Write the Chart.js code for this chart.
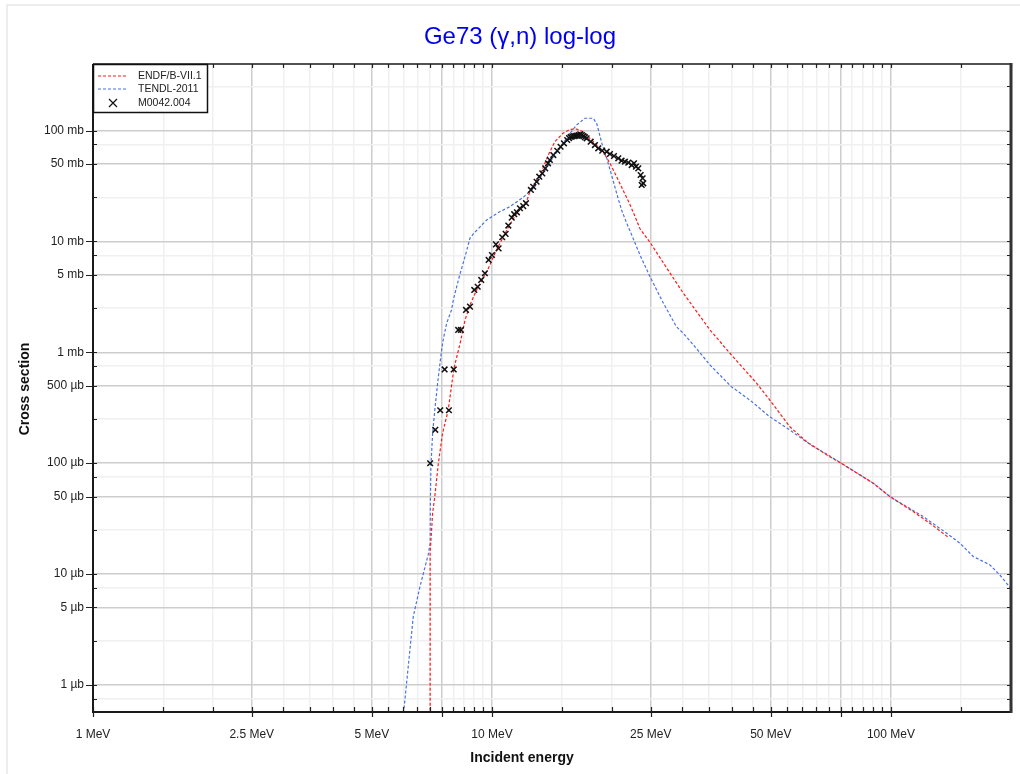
<!DOCTYPE html>
<html lang="en">
<head>
  <meta charset="UTF-8" />
  <title>Ge73 (γ,n) log-log</title>
  <script src="https://cdn.jsdelivr.net/npm/chart.js"></script>
  <style>
    html, body { margin: 0; padding: 0; background: #fff; }
    #wrap { width: 1020px; height: 774px; }
  </style>
</head>
<body>
  <div id="wrap"><canvas id="xsChart" width="1020" height="774"></canvas></div>

  <script>
    // energies in MeV, cross sections in mb
    const endfEnergy = [7.0, 7.0, 7.10, 7.19, 7.34, 7.52, 7.77, 8.03, 8.32, 8.56, 8.81, 9.15, 9.75, 10.27, 10.9,
      11.53, 12.17, 12.45, 13.2, 13.84, 14.38, 15.06, 15.69, 16.3, 16.93, 17.6, 18.3, 19.0, 19.76, 20.54, 21.3,
      22.1, 22.8, 23.5, 24.9, 28.5, 30.2, 35.2, 39.5, 46.1, 49.7, 55.8, 61.5, 69.0, 75.0, 90.3, 99.4, 113.7,
      125.2, 139.2];
    const endfXs = [0.0001, 0.0155, 0.0353, 0.050, 0.0998, 0.186, 0.302, 0.718, 1.2, 1.95, 2.67, 3.65, 5.52, 8.37, 12.7,
      17.9, 22.1, 28.1, 39.7, 60.1, 79.3, 94.4, 102.5, 103, 97.5, 85, 74, 64.4, 50.6, 38.3, 29.1,
      22.1, 17.0, 13.0, 9.8, 4.65, 3.40, 1.59, 0.98, 0.525, 0.371, 0.213, 0.156, 0.119, 0.100, 0.066, 0.050, 0.0366,
      0.0287, 0.0215];

    const tendlEnergy = [5.97, 6.11, 6.35, 6.6, 6.92, 7.0, 7.01, 7.03, 7.10, 7.19, 7.34, 7.48, 7.56, 7.70, 7.92, 8.0,
      8.28, 8.56, 8.81, 9.0, 9.7, 10.45, 11.1, 11.98, 12.8, 13.5, 14.38, 15.06, 15.69, 16.3, 17.1, 17.94,
      18.3, 18.5, 18.85, 19.4, 20.0, 20.54, 21.13, 21.7, 22.5, 23.5, 24.9, 26.9, 29.0, 30.2, 32.3, 35.2, 39.8,
      44.3, 49.7, 55.8, 63.9, 69.0, 75.0, 90.3, 99.4, 120.5, 138, 148.9, 160.8, 177, 187.6, 199.5, 205];
    const tendlXs = [0.00045, 0.00104, 0.00413, 0.0077, 0.0149, 0.019, 0.0466, 0.093, 0.186, 0.302, 0.603, 1.05, 1.34, 1.83, 2.41, 2.96,
      4.8, 7.28, 10.7, 11.8, 15.6, 18.5, 20.6, 25, 31.1, 42.5, 60.1, 76.7, 94.4, 112, 129, 129,
      116, 100, 77, 56, 38.3, 27.1, 19.2, 15, 11, 7.54, 4.8, 2.77, 1.70, 1.48, 1.12, 0.768, 0.49,
      0.371, 0.262, 0.199, 0.141, 0.121, 0.100, 0.066, 0.050, 0.033, 0.0233, 0.019, 0.0144, 0.0121, 0.0098, 0.00745, 0.0068];

    const expEnergy = [7.0, 7.21, 7.42, 7.80, 7.61, 8.02, 8.23, 8.36, 8.61, 8.81, 9.03, 9.21, 9.40, 9.60, 9.81,
      10.0, 10.23, 10.39, 10.61, 10.82, 10.99, 11.21, 11.37, 11.55, 11.75, 11.98, 12.17, 12.52, 12.69, 12.94,
      13.14, 13.37, 13.6, 13.82, 13.97, 14.25, 14.58, 14.86, 15.15, 15.44, 15.6, 15.75, 15.9, 16.05, 16.2,
      16.35, 16.5, 16.65, 16.8, 16.95, 17.1, 17.27, 17.68, 18.12, 18.47, 18.9, 19.39, 19.76, 20.22, 20.73,
      21.13, 21.54, 21.97, 22.4, 22.7, 22.96, 23.27, 23.59, 23.73, 23.86, 23.95];
    const expXs = [0.0998, 0.2, 0.3, 0.3, 0.70, 0.70, 1.59, 1.59, 2.41, 2.58, 3.65, 3.90, 4.49, 5.16, 6.80,
      7.54, 9.41, 8.66, 10.9, 11.7, 13.9, 16.4, 17.6, 18.3, 19.9, 20.8, 22.1, 29.1, 31.1, 34.5,
      38.3, 41.1, 45.6, 50.6, 54.2, 60.1, 65.7, 71.4, 76.7, 82.1, 85.5, 87.5, 88.5, 89, 89.5,
      90, 91, 92.4, 91, 89, 87, 85.1, 79.3, 74, 69.1, 65.8, 64.4, 61.4, 58.9, 56.2,
      53.4, 52.3, 51.3, 48.8, 50.6, 47.2, 45.6, 39.7, 32.3, 37.1, 33.4];

    // axis ranges and tick steps within a decade
    const xMin = 1, xMax = 200;
    const yMin = 0.00057, yMax = 398;
    const xTickSteps = [1, 1.5, 2, 2.5, 3, 3.5, 4, 4.5, 5, 5.5, 6, 6.5, 7, 7.5, 8, 8.5, 9, 9.5];
    const xDarkSteps = [1, 2.5, 5, 7.5];
    const xLabelSteps = [1, 2.5, 5];
    const yTickSteps = [1, 2.5, 5, 7.5];
    const yDarkSteps = [1, 5];
    const yLabelSteps = [1, 5];

    const FONT = 'Liberation Sans, Arial, Helvetica, sans-serif';

    function toPoints(xs, ys) {
      return xs.map((x, i) => ({ x: x, y: ys[i] }));
    }

    function mantissa(v) {
      const e = Math.floor(Math.log10(v) + 1e-9);
      return Math.round(v / Math.pow(10, e) * 100) / 100;
    }

    function decadeTicks(steps, min, max) {
      const out = [];
      for (let e = Math.floor(Math.log10(min)) - 1; e <= Math.ceil(Math.log10(max)); e++) {
        steps.forEach(s => {
          const v = Number((s * Math.pow(10, e)).toPrecision(6));
          if (v >= min && v <= max) out.push(v);
        });
      }
      return out;
    }

    const xTicks = decadeTicks(xTickSteps, xMin, xMax);
    const yTicks = decadeTicks(yTickSteps, yMin, yMax);

    function yLabel(v) {
      if (v >= 1) return v + ' mb';
      return Math.round(v * 1000) + ' µb';
    }

    // the plot box is placed by hand, so drop the label overhang padding
    function fixBox(s, size) {
      if (s.isHorizontal()) s.height = size; else s.width = size;
      s.paddingLeft = s.paddingRight = s.paddingTop = s.paddingBottom = 0;
    }

    // white page, thin outer frame
    const backdrop = {
      id: 'backdrop',
      beforeDraw(chart) {
        const c = chart.ctx;
        c.save();
        c.fillStyle = '#fff';
        c.fillRect(0, 0, chart.width, chart.height);
        c.strokeStyle = '#e8e8e8';
        c.lineWidth = 1.5;
        c.beginPath();
        c.moveTo(7, chart.height);
        c.lineTo(7, 5);
        c.lineTo(chart.width, 5);
        c.stroke();
        c.restore();
      }
    };

    // plot box, tick marks on all sides, titles and the legend box
    const frame = {
      id: 'frame',
      afterDatasetsDraw(chart) {
        const c = chart.ctx;
        const a = chart.chartArea;
        const x = chart.scales.x, y = chart.scales.y;
        c.save();
        c.strokeStyle = '#222';
        c.lineWidth = 1.2;
        c.beginPath();
        xTicks.forEach(v => {
          const px = Math.round(x.getPixelForValue(v)) + 0.5;
          const dark = xDarkSteps.includes(mantissa(v));
          c.moveTo(px, a.bottom - 5);
          c.lineTo(px, a.bottom + (dark ? 5 : 0));
          c.moveTo(px, a.top);
          c.lineTo(px, a.top + 4);
        });
        yTicks.forEach(v => {
          const py = Math.round(y.getPixelForValue(v)) + 0.5;
          const dark = yDarkSteps.includes(mantissa(v));
          c.moveTo(a.left - (dark ? 7 : 0), py);
          c.lineTo(a.left + 4, py);
          c.moveTo(a.right - 4, py);
          c.lineTo(a.right, py);
        });
        c.stroke();

        // box edges
        c.strokeStyle = '#1a1a1a';
        c.lineWidth = 1.5;
        c.beginPath();
        c.moveTo(a.left, a.top);
        c.lineTo(a.right, a.top);
        c.stroke();
        c.lineWidth = 2;
        c.beginPath();
        c.moveTo(a.left, a.top);
        c.lineTo(a.left, a.bottom);
        c.lineTo(a.right, a.bottom);
        c.stroke();
        c.strokeStyle = '#333';
        c.lineWidth = 3;
        c.beginPath();
        c.moveTo(a.right, a.top - 1);
        c.lineTo(a.right, a.bottom + 1);
        c.stroke();
        c.restore();
      },
      afterDraw(chart) {
        const c = chart.ctx;
        const a = chart.chartArea;
        c.save();

        c.fillStyle = '#0000ee';
        c.font = '24px ' + FONT;
        c.textAlign = 'center';
        c.textBaseline = 'middle';
        c.fillText('Ge73 (γ,n) log-log', 520, 37);

        c.fillStyle = '#111';
        c.font = 'bold 14px ' + FONT;
        c.fillText('Incident energy', 522, 758);
        c.translate(25, 389);
        c.rotate(-Math.PI / 2);
        c.fillText('Cross section', 0, 0);
        c.restore();

        // legend
        c.save();
        c.fillStyle = '#fff';
        c.fillRect(a.left, a.top, 114, 48);
        c.strokeStyle = '#111';
        c.lineWidth = 1.5;
        c.strokeRect(a.left + 0.5, a.top + 0.5, 114, 48);
        const rows = [
          { label: 'ENDF/B-VII.1', color: '#ff1a1a', y: a.top + 12 },
          { label: 'TENDL-2011', color: '#4a72e0', y: a.top + 25 },
          { label: 'M0042.004', color: null, y: a.top + 39 }
        ];
        c.font = '10.5px ' + FONT;
        c.textAlign = 'left';
        c.textBaseline = 'middle';
        rows.forEach(r => {
          if (r.color) {
            c.strokeStyle = r.color;
            c.lineWidth = 1.2;
            c.setLineDash([3, 2]);
            c.beginPath();
            c.moveTo(a.left + 5, r.y);
            c.lineTo(a.left + 34, r.y);
            c.stroke();
            c.setLineDash([]);
          } else {
            const cx = a.left + 20;
            c.strokeStyle = '#111';
            c.lineWidth = 1.2;
            c.beginPath();
            c.moveTo(cx - 4, r.y - 4); c.lineTo(cx + 4, r.y + 4);
            c.moveTo(cx - 4, r.y + 4); c.lineTo(cx + 4, r.y - 4);
            c.stroke();
          }
          c.fillStyle = '#222';
          c.fillText(r.label, a.left + 45, r.y + 0.5);
        });
        c.restore();
      }
    };

    const ctx = document.getElementById('xsChart').getContext('2d');

    new Chart(ctx, {
      type: 'scatter',
      data: {
        datasets: [
          {
            label: 'M0042.004',
            data: toPoints(expEnergy, expXs),
            pointStyle: 'crossRot',
            pointRadius: 4,
            borderColor: '#111',
            borderWidth: 1.5,
            showLine: false
          },
          {
            label: 'ENDF/B-VII.1',
            data: toPoints(endfEnergy, endfXs),
            showLine: true,
            borderColor: '#ff1a1a',
            borderWidth: 1.2,
            borderDash: [3, 2],
            pointRadius: 0,
            tension: 0
          },
          {
            label: 'TENDL-2011',
            data: toPoints(tendlEnergy, tendlXs),
            showLine: true,
            borderColor: '#4a72e0',
            borderWidth: 1.2,
            borderDash: [3, 2],
            pointRadius: 0,
            tension: 0
          }
        ]
      },
      options: {
        responsive: false,
        animation: false,
        layout: { padding: { left: 0, top: 64, right: 9, bottom: 0 } },
        plugins: {
          legend: { display: false },
          title: { display: false },
          tooltip: { enabled: false }
        },
        scales: {
          x: {
            type: 'logarithmic',
            min: xMin,
            max: xMax,
            afterBuildTicks: s => { s.ticks = xTicks.map(v => ({ value: v })); },
            afterFit: s => fixBox(s, 62),
            border: { display: false },
            grid: {
              drawTicks: false,
              lineWidth: 1.5,
              color: c => xDarkSteps.includes(mantissa(c.tick.value)) ? '#cdcdcd' : '#f0f0f0'
            },
            ticks: {
              autoSkip: false,
              maxRotation: 0,
              padding: 15,
              color: '#222',
              font: { family: FONT, size: 12 },
              callback: v => xLabelSteps.includes(mantissa(v)) ? v + ' MeV' : ''
            }
          },
          y: {
            type: 'logarithmic',
            min: yMin,
            max: yMax,
            afterBuildTicks: s => { s.ticks = yTicks.map(v => ({ value: v })); },
            afterFit: s => fixBox(s, 93),
            border: { display: false },
            grid: {
              drawTicks: false,
              lineWidth: 1.5,
              color: c => yDarkSteps.includes(mantissa(c.tick.value)) ? '#cdcdcd' : '#f0f0f0'
            },
            ticks: {
              autoSkip: false,
              padding: 9,
              color: '#222',
              font: { family: FONT, size: 12 },
              callback: v => yLabelSteps.includes(mantissa(v)) ? yLabel(v) : ''
            }
          }
        }
      },
      plugins: [backdrop, frame]
    });
  </script>
</body>
</html>
